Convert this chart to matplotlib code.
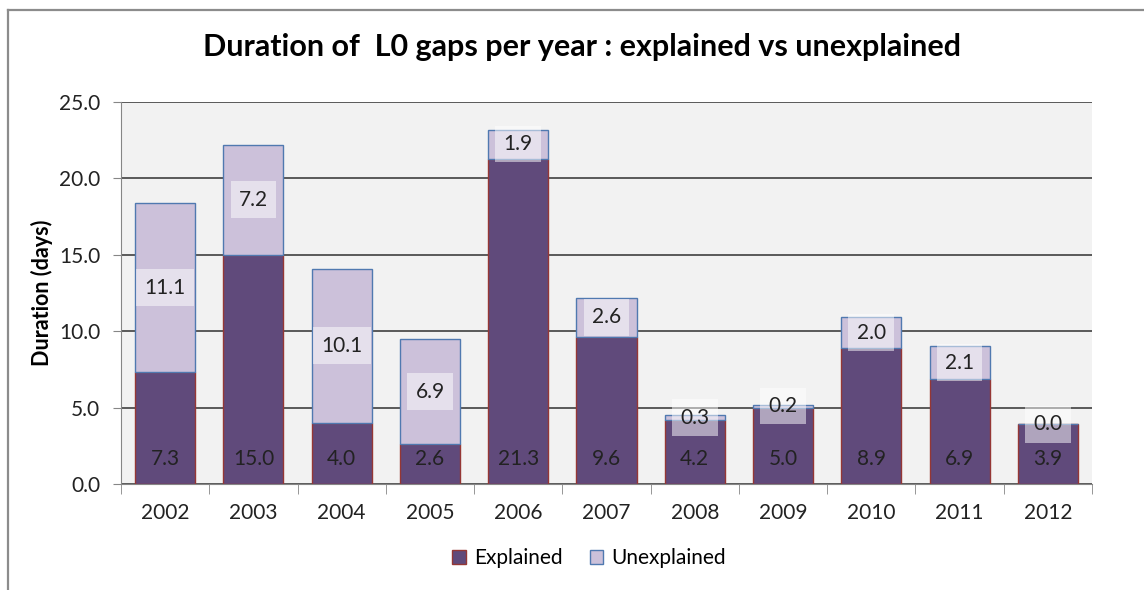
import matplotlib
matplotlib.use("Agg")
import matplotlib.pyplot as plt
import numpy as np

years = ["2002", "2003", "2004", "2005", "2006", "2007",
         "2008", "2009", "2010", "2011", "2012"]
explained = [7.3, 15.0, 4.0, 2.6, 21.3, 9.6, 4.2, 5.0, 8.9, 6.9, 3.9]
unexplained = [11.1, 7.2, 10.1, 6.9, 1.9, 2.6, 0.3, 0.2, 2.0, 2.1, 0.0]
y_ticks = [0.0, 5.0, 10.0, 15.0, 20.0, 25.0]

plt.rcParams["font.family"] = ["Lato", "DejaVu Sans"]

fig = plt.figure(figsize=(11.44, 5.9), dpi=100)
ax = fig.add_axes([121 / 1144, 1 - 484 / 590, (1092 - 121) / 1144, (484 - 102) / 590])
ax.set_facecolor("#F2F2F2")

x = np.arange(len(years))
w = 0.68
b1 = ax.bar(x, explained, w, color="#604A7B", edgecolor="#953735",
            linewidth=1, zorder=3, label="Explained")
b2 = ax.bar(x, unexplained, w, bottom=explained, color="#CCC1DA",
            edgecolor="#5079B0", linewidth=1, zorder=3, label="Unexplained")

# labels: explained near the base, unexplained centred with a light box
for i in range(len(years)):
    ax.annotate(f"{explained[i]:.1f}", xy=(x[i], 0), xytext=(0, 18),
                textcoords="offset points", ha="center", va="center",
                fontsize=15, color="#222222", zorder=5)
    ax.text(x[i], explained[i] + unexplained[i] / 2, f"{unexplained[i]:.1f}",
            ha="center", va="center", fontsize=15, color="#222222", zorder=5,
            bbox=dict(boxstyle="square,pad=0.4", facecolor="white",
                      edgecolor="none", alpha=0.5))

ax.set_xlim(-0.5, len(years) - 0.5)
ax.set_ylim(0, 25)
ax.set_yticks(y_ticks)
ax.set_yticklabels([f"{v:.1f}" for v in y_ticks])
ax.yaxis.grid(True, color="#404040", linewidth=1.2, zorder=1)
ax.set_axisbelow(True)

ax.set_xticks(x)
ax.set_xticklabels(years)
ax.set_xticks(np.arange(-0.5, len(years), 1.0), minor=True)
ax.tick_params(axis="x", which="major", length=0, labelsize=15, pad=14,
               colors="#222222")
ax.tick_params(axis="x", which="minor", length=7, color="#868686", direction="out")
ax.tick_params(axis="y", length=6, labelsize=15, pad=9, colors="#222222")
ax.tick_params(axis="y", color="#868686")

for s in ["top", "right"]:
    ax.spines[s].set_visible(False)
ax.spines["left"].set_color("#868686")
ax.spines["bottom"].set_color("#868686")

ax.set_ylabel("Duration (days)", fontsize=15.5, fontweight="bold", labelpad=4)

fig.text(582 / 1144, 1 - 47 / 590,
         "Duration of  L0 gaps per year : explained vs unexplained",
         ha="center", va="center", fontsize=22, fontweight="bold")

fig.legend(handles=[b1, b2], loc="center", bbox_to_anchor=(0.515, 1 - 558 / 590),
           ncol=2, frameon=False, fontsize=15, handlelength=0.65,
           handleheight=0.65, handletextpad=0.4, columnspacing=1.3)

# outer chart border (left and top edges visible)
fig.add_artist(plt.Line2D([8 / 1144, 8 / 1144], [0, 1 - 10 / 590],
                          color="#8C8C8C", linewidth=1.6))
fig.add_artist(plt.Line2D([8 / 1144, 1], [1 - 10 / 590, 1 - 10 / 590],
                          color="#8C8C8C", linewidth=1.6))

fig.savefig("out.png", dpi=100)
